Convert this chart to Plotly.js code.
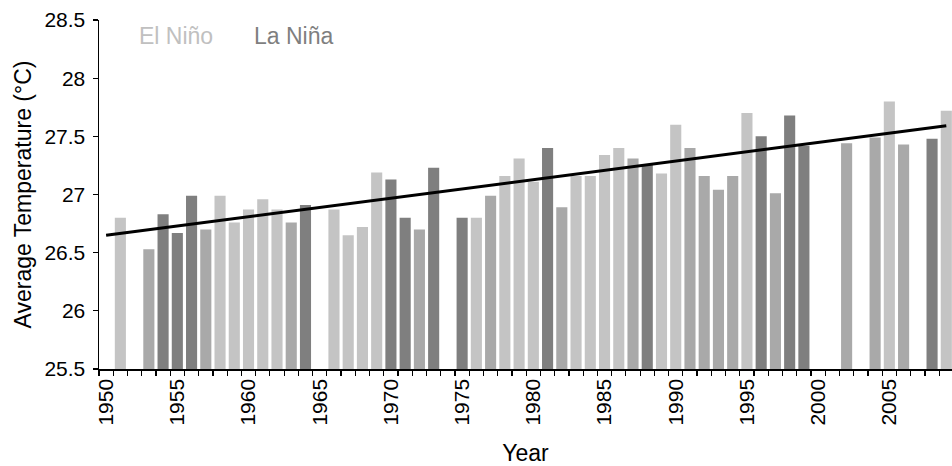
<!DOCTYPE html>
<html>
<head>
<meta charset="utf-8">
<script src="https://cdn.plot.ly/plotly-3.0.1.min.js"></script>
<style>html,body{margin:0;padding:0;background:#fff;}#chart{width:952px;height:466px;}</style>
</head>
<body>
<div id="chart"></div>
<script>
// Years with data (missing years have no bar)
var years = [1951,1953,1954,1955,1956,1957,1958,1959,1960,1961,1962,1963,1964,
  1966,1967,1968,1969,1970,1971,1972,1973,1975,1976,1977,1978,1979,1980,1981,1982,
  1983,1984,1985,1986,1987,1988,1989,1990,1991,1992,1993,1994,1995,1996,1997,1998,1999,
  2002,2004,2005,2006,2008,2009];
var temps = [26.80,26.53,26.83,26.67,26.99,26.70,26.99,26.76,26.87,26.96,26.87,26.76,26.91,
  26.87,26.65,26.72,27.19,27.13,26.80,26.70,27.23,26.80,26.80,26.99,27.16,27.31,27.11,27.40,26.89,
  27.16,27.16,27.34,27.40,27.31,27.26,27.18,27.60,27.40,27.16,27.04,27.16,27.70,27.50,27.01,27.68,27.42,
  27.44,27.49,27.80,27.43,27.48,27.72];
// E = El Niño, L = La Niña, N = neutral
var phase = ['E','N','L','L','L','N','E','E','E','E','E','N','L',
  'E','E','E','E','L','L','N','L','L','E','N','E','E','E','L','N',
  'E','E','E','E','N','L','E','E','N','N','N','N','E','L','N','L','L',
  'N','N','E','N','L','E'];
var trendYears = [1950, 2009];
var trendTemps = [26.65, 27.59];
var legendLabels = ['El Niño', 'La Niña'];
var yTicks = [25.5, 26, 26.5, 27, 27.5, 28, 28.5];
var yTickText = ['25.5', '26', '26.5', '27', '27.5', '28', '28.5'];
var xTicks = [1950,1955,1960,1965,1970,1975,1980,1985,1990,1995,2000,2005];

var colorMap = {E:'#c4c4c4', L:'#7f7f7f', N:'#a9a9a9'};
var barColors = phase.map(function(p){return colorMap[p];});
var FONT = 'Liberation Sans, Arial, Helvetica, sans-serif';

var traces = [
  {type:'bar', x:years, y:temps, marker:{color:barColors, line:{width:0}},
   hoverinfo:'x+y', showlegend:false},
  {type:'scatter', mode:'lines', x:trendYears, y:trendTemps,
   line:{color:'#000', width:3}, showlegend:false}
];

var layout = {
  width:952, height:466,
  margin:{l:99, r:0, t:20, b:97},
  paper_bgcolor:'#fff', plot_bgcolor:'#fff',
  bargap:0.22,
  font:{family:FONT, color:'#000'},
  xaxis:{
    range:[1949.5, 2009.4], showgrid:false, zeroline:false,
    showline:true, linecolor:'#000', linewidth:1.5,
    tickmode:'array', tickvals:xTicks, ticktext:xTicks.map(String),
    ticks:'', tickangle:-90, tickfont:{size:21, family:FONT, color:'#000'},
    minor:{tick0:1949.5, dtick:1, ticks:'outside', ticklen:5, tickcolor:'#000', tickwidth:1.2, showgrid:false},
    title:{text:'Year', font:{size:23, family:FONT, color:'#000'}, standoff:20},
    fixedrange:true
  },
  yaxis:{
    range:[25.5, 28.5], showgrid:false, zeroline:false,
    showline:true, linecolor:'#000', linewidth:1.5,
    tickmode:'array', tickvals:yTicks, ticktext:yTickText,
    ticks:'outside', ticklen:5, tickcolor:'#000', tickwidth:1.2,
    ticklabelstandoff:3,
    tickfont:{size:21, family:FONT, color:'#000'},
    title:{text:'Average Temperature (°C)', font:{size:23, family:FONT, color:'#000'}, standoff:6},
    fixedrange:true
  },
  annotations:[
    {xref:'paper', yref:'paper', x:0.0446, y:0.954, xanchor:'left', yanchor:'middle',
     text:legendLabels[0], showarrow:false, font:{size:23, family:FONT, color:'#c0c0c0'}},
    {xref:'paper', yref:'paper', x:0.1796, y:0.954, xanchor:'left', yanchor:'middle',
     text:legendLabels[1], showarrow:false, font:{size:23, family:FONT, color:'#7f7f7f'}}
  ]
};

Plotly.newPlot('chart', traces, layout, {displayModeBar:false, staticPlot:true});
</script>
</body>
</html>
